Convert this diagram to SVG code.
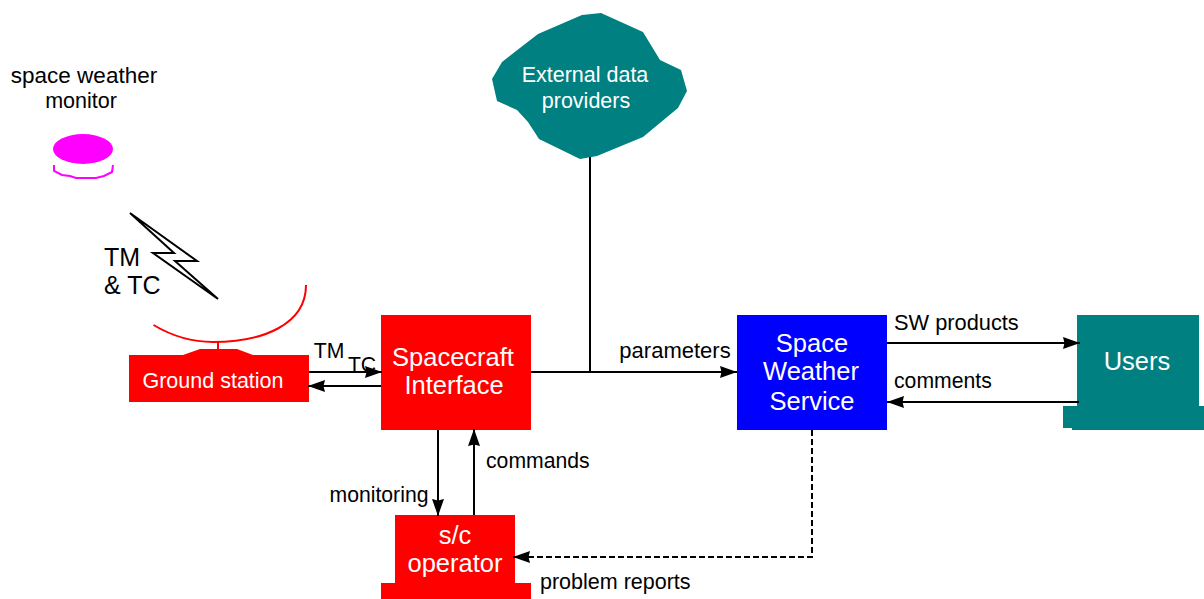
<svg xmlns="http://www.w3.org/2000/svg" width="1204" height="599" viewBox="0 0 1204 599">
<style>
text{font-family:"Liberation Sans",Arial,sans-serif;text-anchor:middle}
.l{font-size:21.200px;fill:#000}
.n{font-size:21.500px;fill:#fff}
.b{font-size:25.500px;fill:#fff}
.s{text-anchor:start}
.c{fill:none;stroke:#000;stroke-width:2}
.red{fill:#f00}
.teal{fill:#008080}
</style>
<defs>
<marker id="a" markerUnits="userSpaceOnUse" markerWidth="18" markerHeight="14" refX="17" refY="7" orient="auto"><path d="M0 1L17 7L0 13L1.500 7Z" fill="#000"/></marker>
</defs>
<rect width="1204" height="599" fill="#fff"/>
<g id="space-weather-monitor">
<text class="l" x="84" y="83" style="font-size:22.500px">space weather</text>
<text class="l" x="81" y="108" style="font-size:21.500px">monitor</text>
<ellipse cx="83" cy="149" rx="30" ry="15" fill="#f0f"/>
<path d="M54 165V171L62 175L70 176L76 178H96L104 176L112 172L113 165" fill="none" stroke="#f0f" stroke-width="2"/>
</g>
<g id="link">
<path d="M130 213L197 261H175L218 299L153 253H174Z" fill="#fff" stroke="#000" stroke-width="2"/>
<text x="104" y="266" font-size="25" class="s" fill="#000">TM</text>
<text x="104" y="294" font-size="25" class="s" fill="#000">&amp; TC</text>
</g>
<g id="ground-station">
<path d="M153.500 325C172 336 190 342 213 342C262 342 306 325 306 285" fill="none" stroke="#f00" stroke-width="2"/>
<path d="M218 342V349" stroke="#f00" stroke-width="2"/>
<path class="red" d="M129 355H183L200 349H237L253 355H309V402H129Z"/>
<text class="n" x="213" y="388">Ground station</text>
</g>
<g id="spacecraft-interface">
<rect class="red" x="381" y="315" width="150" height="115"/>
<text class="b" x="453" y="366">Spacecraft</text>
<text class="b" x="454" y="394">Interface</text>
</g>
<g id="operator">
<path class="red" d="M395 515H515V583H531V599H381V583H395Z"/>
<text class="b" x="455" y="544">s/c</text>
<text class="b" x="455" y="572">operator</text>
</g>
<g id="external-data-providers">
<path class="teal" d="M582 15L601 13L643 32L660 60L681 70L687 91L678 108L643 137L597 156L580 159L539 139L528 122L517 110L497 101L492 79L502 62L538 34Z"/>
<text class="n" x="585" y="82">External data</text>
<text class="n" x="586" y="108">providers</text>
</g>
<g id="space-weather-service">
<rect x="737" y="315" width="150" height="115" fill="#00f"/>
<text class="b" x="812" y="352">Space</text>
<text class="b" x="811" y="380">Weather</text>
<text class="b" x="812" y="410">Service</text>
</g>
<g id="users">
<path class="teal" d="M1077 315H1199V406H1204V430H1072V428H1063V406H1077Z"/>
<text class="b" x="1137" y="370">Users</text>
</g>
<g id="connectors">
<path class="c" d="M309 372H382" marker-end="url(#a)"/>
<path class="c" d="M381 386H308" marker-end="url(#a)"/>
<path class="c" d="M438 430V516" marker-end="url(#a)"/>
<path class="c" d="M474 515V429" marker-end="url(#a)"/>
<path class="c" d="M531 372H737" marker-end="url(#a)"/>
<path class="c" d="M590 157V372"/>
<path class="c" d="M887 343H1080" marker-end="url(#a)"/>
<path class="c" d="M1079 402H887" marker-end="url(#a)"/>
<path class="c" d="M812 430V557H513" stroke-dasharray="6 3" marker-end="url(#a)"/>
</g>
<g id="labels">
<text class="l" x="329" y="358">TM</text>
<text class="l" x="362" y="372">TC</text>
<text class="l" x="675" y="358" style="font-size:22px">parameters</text>
<text class="l s" x="894" y="330" style="font-size:21.800px">SW products</text>
<text class="l s" x="894" y="388">comments</text>
<text class="l" x="379" y="502">monitoring</text>
<text class="l s" x="486" y="468">commands</text>
<text class="l s" x="540" y="589" style="font-size:21.500px">problem reports</text>
</g>
</svg>
